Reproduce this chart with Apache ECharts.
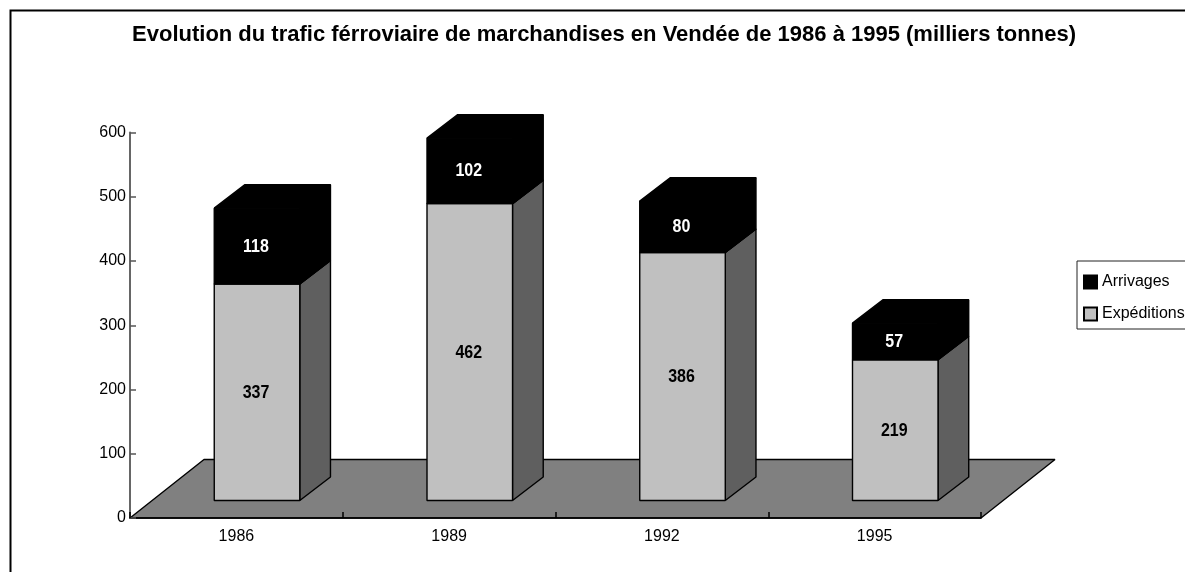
<!DOCTYPE html>
<html>
<head>
<meta charset="utf-8">
<style>html,body{margin:0;padding:0;background:#fff}#c{width:1185px;height:572px}</style>
<script src="https://cdn.jsdelivr.net/npm/echarts@6/dist/echarts.min.js"></script>
</head>
<body>
<div id="c"></div>
<script>
var titleText = 'Evolution du trafic férroviaire de marchandises en Vendée de 1986 à 1995 (milliers tonnes)';
var categories = ['1986', '1989', '1992', '1995'];
var expeditions = [337, 462, 386, 219];
var arrivages = [118, 102, 80, 57];
var FONT = '"Liberation Sans", Arial, sans-serif';

var chart = echarts.init(document.getElementById('c'), null, {renderer: 'canvas'});

function box(api, params, lo, hi, catIdx, fill, sideFill, textColor, label) {
  var band = api.size([1, 0])[0];
  var w = band * 0.402, cx = api.coord([catIdx, 0])[0] + band * 0.097;
  var baseLift = 17.5, dx = 30.7, dy = 23.5;
  var xl = cx - w / 2, xr = cx + w / 2;
  var yb = api.coord([catIdx, lo])[1] - baseLift;
  var yt = api.coord([catIdx, hi])[1] - baseLift;
  var line = {stroke: '#000', lineWidth: 1.4, lineJoin: 'bevel'};
  return {type: 'group', children: [
    {type: 'polygon', shape: {points: [[xr, yb], [xr + dx, yb - dy], [xr + dx, yt - dy], [xr, yt]]},
      style: Object.assign({fill: sideFill}, line)},
    {type: 'polygon', shape: {points: [[xl, yt], [xl + dx, yt - dy], [xr + dx, yt - dy], [xr, yt]]},
      style: Object.assign({fill: fill}, line)},
    {type: 'rect', shape: {x: xl, y: yt, width: w, height: yb - yt},
      style: Object.assign({fill: fill}, line)},
    {type: 'text', x: cx - 1, y: (yt + yb) / 2 + 0.5, scaleY: 1.15,
      style: {text: String(label), fill: textColor, font: 'bold 16px ' + FONT, align: 'center', verticalAlign: 'middle'}}
  ]};
}

var option = {
  animation: false,
  backgroundColor: '#fff',
  textStyle: {fontFamily: FONT},
  title: {
    text: titleText, left: 599, top: 19, textAlign: 'center',
    textStyle: {fontFamily: FONT, fontSize: 22, fontWeight: 'bold', color: '#000'}
  },
  legend: {
    left: 1077, top: 261, orient: 'vertical',
    data: [{name: 'Arrivages', icon: 'rect'}, {name: 'Expéditions', icon: 'rect'}],
    itemWidth: 13, itemHeight: 13, itemGap: 16,
    padding: [13, 10, 7, 6],
    borderColor: '#222', borderWidth: 1, backgroundColor: '#fff',
    selectedMode: false,
    textStyle: {fontFamily: FONT, fontSize: 16, color: '#000'}
  },
  grid: {left: 130, right: 204, top: 132.5, bottom: 54, containLabel: false},
  xAxis: {
    type: 'category', data: categories,
    axisLine: {lineStyle: {color: '#000', width: 1.5}},
    axisTick: {show: true, inside: true, length: 6, lineStyle: {color: '#000', width: 1.5}, alignWithLabel: false},
    axisLabel: {color: '#000', fontSize: 16, fontFamily: FONT, margin: 11}
  },
  yAxis: {
    type: 'value', min: 0, max: 600, interval: 100,
    splitLine: {show: false},
    axisLine: {show: true, lineStyle: {color: '#666', width: 2}},
    axisTick: {show: true, inside: true, length: 6, lineStyle: {color: '#555', width: 1.5}},
    axisLabel: {color: '#000', fontSize: 16, fontFamily: FONT, margin: 4, padding: [4, 0, 0, 0]}
  },
  series: [
    {
      name: 'Sol', type: 'custom', z: -1, silent: true, clip: false,
      data: [[0, 0]],
      encode: {x: 0, y: 1},
      renderItem: function (params, api) {
        var cs = params.coordSys, dx = 74, dy = 58.5, y0 = cs.y + cs.height;
        return {type: 'polygon',
          shape: {points: [[cs.x, y0], [cs.x + dx, y0 - dy], [cs.x + cs.width + dx, y0 - dy], [cs.x + cs.width, y0]]},
          style: {fill: '#808080', stroke: '#000', lineWidth: 1.4, lineJoin: 'bevel'}};
      }
    },
    {
      name: 'Expéditions', type: 'custom', z: 3, clip: false,
      itemStyle: {color: '#c0c0c0', borderColor: '#000', borderWidth: 1.4},
      data: expeditions.map(function (v, i) { return [i, v]; }),
      encode: {x: 0, y: 1},
      renderItem: function (params, api) {
        var i = api.value(0), v = api.value(1);
        return box(api, params, 0, v, i, '#c0c0c0', '#5f5f5f', '#000', v);
      }
    },
    {
      name: 'Arrivages', type: 'custom', z: 4, clip: false,
      itemStyle: {color: '#000', borderColor: '#000', borderWidth: 1},
      data: arrivages.map(function (v, i) { return [i, v, expeditions[i]]; }),
      encode: {x: 0, y: 1},
      renderItem: function (params, api) {
        var i = api.value(0), v = api.value(1), lo = api.value(2);
        return box(api, params, lo, lo + v, i, '#000', '#000', '#fff', v);
      }
    }
  ],
  graphic: [{
    type: 'polyline', silent: true,
    shape: {points: [[10.5, 572], [10.5, 10.5], [1185, 10.5]]},
    style: {fill: null, stroke: '#000', lineWidth: 2}
  }]
};
chart.setOption(option);
</script>
</body>
</html>
